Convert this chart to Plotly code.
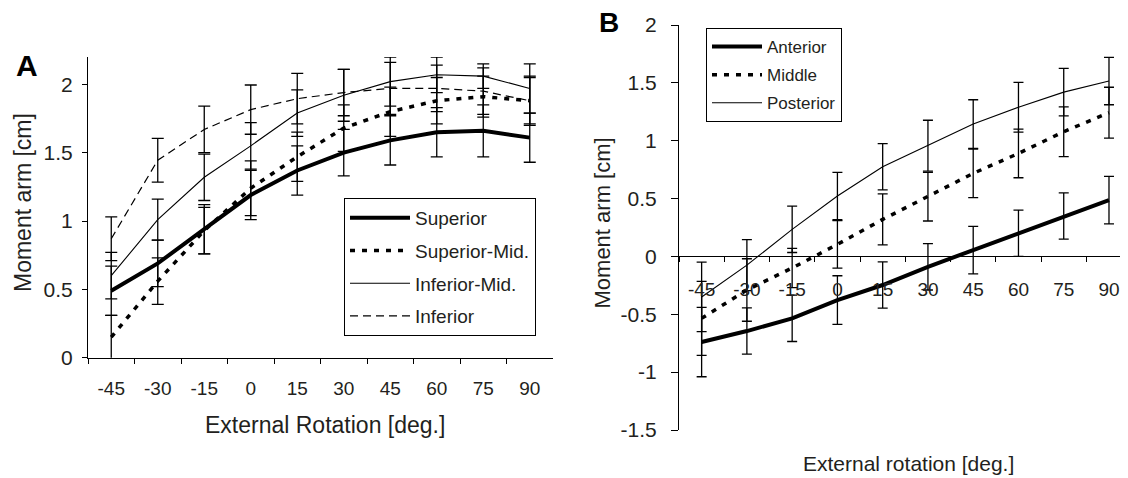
import plotly.graph_objects as go

rotation = ["-45", "-30", "-15", "0", "15", "30", "45", "60", "75", "90"]

# Panel A
superior = [0.49, 0.69, 0.94, 1.19, 1.37, 1.50, 1.59, 1.65, 1.66, 1.61]
superior_err = [0.18, 0.17, 0.18, 0.18, 0.18, 0.17, 0.18, 0.18, 0.19, 0.18]
superior_mid = [0.15, 0.56, 0.93, 1.24, 1.47, 1.68, 1.80, 1.88, 1.91, 1.88]
superior_mid_err = [0.16, 0.17, 0.17, 0.20, 0.18, 0.17, 0.18, 0.17, 0.15, 0.17]
inferior_mid = [0.60, 1.01, 1.32, 1.55, 1.79, 1.92, 2.02, 2.07, 2.06, 1.97]
inferior_mid_err = [0.17, 0.15, 0.17, 0.17, 0.17, 0.19, 0.18, 0.13, 0.09, 0.18]
inferior = [0.87, 1.445, 1.67, 1.815, 1.895, 1.94, 1.97, 1.97, 1.95, 1.88]
inferior_err = [0.16, 0.16, 0.17, 0.18, 0.185, 0.17, 0.19, 0.17, 0.17, 0.18]

# Panel B
anterior = [-0.74, -0.645, -0.535, -0.377, -0.247, -0.09, 0.055, 0.20, 0.35, 0.487]
anterior_err = [0.30, 0.20, 0.20, 0.21, 0.20, 0.20, 0.205, 0.20, 0.20, 0.205]
middle = [-0.535, -0.29, -0.10, 0.104, 0.32, 0.516, 0.718, 0.89, 1.078, 1.242]
middle_err = [0.32, 0.27, 0.17, 0.205, 0.22, 0.21, 0.21, 0.21, 0.215, 0.22]
posterior = [-0.35, -0.075, 0.234, 0.522, 0.775, 0.957, 1.144, 1.29, 1.42, 1.516]
posterior_err = [0.30, 0.22, 0.20, 0.205, 0.20, 0.22, 0.21, 0.215, 0.205, 0.205]

ya_ticks = [0, 0.5, 1, 1.5, 2]
ya_text = ["0", "0.5", "1", "1.5", "2"]
yb_ticks = [-1.5, -1, -0.5, 0, 0.5, 1, 1.5, 2]
yb_text = ["-1.5", "-1", "-0.5", "0", "0.5", "1", "1.5", "2"]

FONT = "Liberation Sans, Arial, Helvetica, sans-serif"
TXT = "#231f20"
# the page body has an 8px margin; figure is sized so it fills the window
OFF = 8
W, H = 1128 - OFF, 478 - OFF


def fx(p):
    return (p - OFF) / W


def fy(p):
    return 1 - (p - OFF) / H


fig = go.Figure()


def add(name, y, err, width, dash, xa, ya, legend, capw):
    fig.add_trace(go.Scatter(
        x=rotation, y=y, name=name, mode="lines",
        line=dict(color="black", width=width, dash=dash),
        error_y=dict(type="data", array=err, visible=True, color="black",
                     thickness=1.3, width=capw),
        xaxis=xa, yaxis=ya, legend=legend, legendgroup=name,
        cliponaxis=False,
    ))


add("Superior", superior, superior_err, 4, "solid", "x", "y", "legend", 6)
add("Superior-Mid.", superior_mid, superior_mid_err, 3.5, "5px,7px", "x", "y", "legend", 6)
add("Inferior-Mid.", inferior_mid, inferior_mid_err, 1.1, "solid", "x", "y", "legend", 6)
add("Inferior", inferior, inferior_err, 1.2, "8px,5px", "x", "y", "legend", 6)

add("Anterior", anterior, anterior_err, 4, "solid", "x2", "y2", "legend2", 5)
add("Middle", middle, middle_err, 3.5, "5px,7px", "x2", "y2", "legend2", 5)
add("Posterior", posterior, posterior_err, 1.1, "solid", "x2", "y2", "legend2", 5)

axcommon = dict(showgrid=False, zeroline=False, showline=True, linecolor="black",
                linewidth=1, ticks="outside", tickcolor="black", ticklen=5,
                tickwidth=1, automargin=False)

fig.update_layout(
    template="none",
    width=W, height=H,
    margin=dict(l=0, r=0, t=0, b=0),
    paper_bgcolor="white", plot_bgcolor="rgba(0,0,0,0)",
    font=dict(family=FONT, color=TXT),
    xaxis=dict(type="category", domain=[fx(88), fx(553)], anchor="y",
               range=[-0.5, 9.5], tickson="boundaries",
               tickfont=dict(size=19), ticklabelstandoff=13, **axcommon),
    yaxis=dict(domain=[fy(357.7), fy(57)], anchor="x", range=[0, 2.2],
               tickvals=ya_ticks, ticktext=ya_text, tickfont=dict(size=21),
               ticklabelstandoff=5, **axcommon),
    xaxis2=dict(type="category", domain=[fx(679), 1.0], anchor="free",
                position=fy(256.4), range=[-0.5, 9.42], tickson="boundaries",
                tickfont=dict(size=19), ticklabelstandoff=16, **axcommon),
    yaxis2=dict(domain=[fy(430), fy(25)], anchor="x2", range=[-1.5, 2],
                tickvals=yb_ticks, ticktext=yb_text, tickfont=dict(size=21),
                ticklabelstandoff=10, ticklen=7, **{k: v for k, v in axcommon.items() if k != "ticklen"}),
    legend=dict(x=fx(344), y=fy(198), xanchor="left", yanchor="top",
                bgcolor="white", bordercolor="black", borderwidth=1,
                font=dict(size=19, color=TXT), tracegroupgap=5,
                traceorder="grouped", itemwidth=60),
    legend2=dict(x=fx(706), y=fy(28), xanchor="left", yanchor="top",
                 bgcolor="white", bordercolor="black", borderwidth=1,
                 font=dict(size=17, color=TXT), tracegroupgap=3,
                 traceorder="grouped", itemwidth=50),
    showlegend=True,
)

ann = [
    dict(text="Moment arm [cm]", x=fx(23), y=fy(203), textangle=-90, font=dict(size=23)),
    dict(text="External Rotation [deg.]", x=fx(325), y=fy(425), font=dict(size=23)),
    dict(text="Moment arm [cm]", x=fx(602), y=fy(223.5), textangle=-90, font=dict(size=22)),
    dict(text="External rotation [deg.]", x=fx(908), y=fy(463), font=dict(size=21)),
    dict(text="<b>A</b>", x=fx(27), y=fy(66), font=dict(size=30, color="black")),
    dict(text="<b>B</b>", x=fx(609), y=fy(23), font=dict(size=28, color="black")),
]
for a in ann:
    fig.add_annotation(xref="paper", yref="paper", showarrow=False,
                       xanchor="center", yanchor="middle", **a)

fig.write_html("out.html")
